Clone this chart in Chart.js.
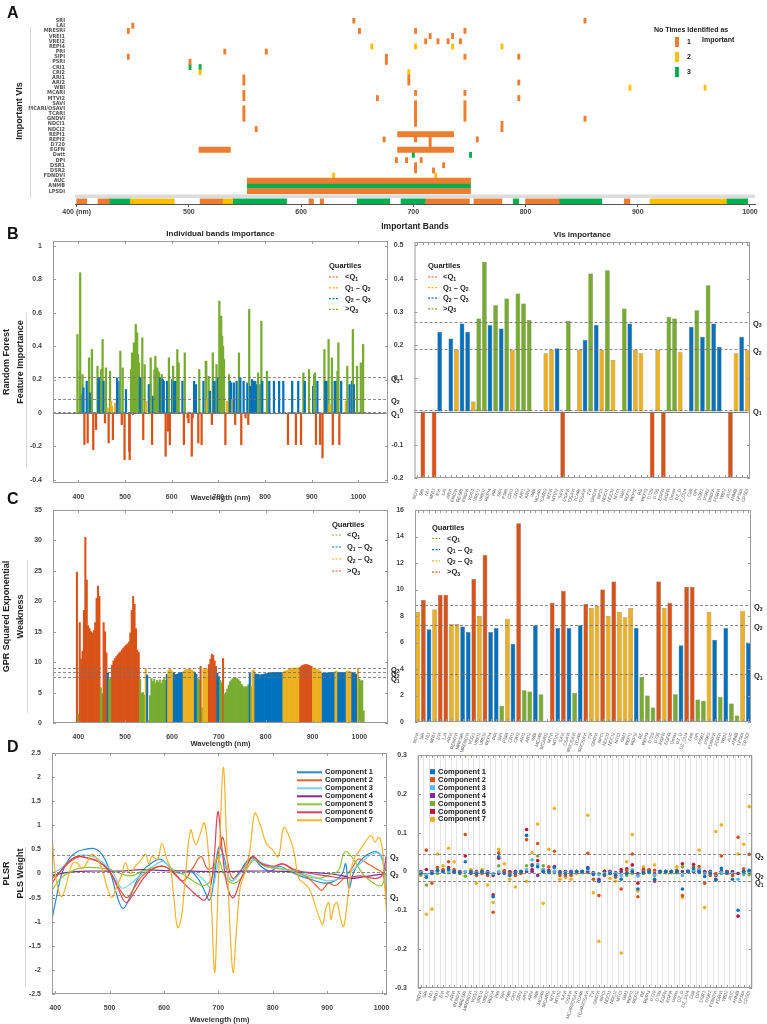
<!DOCTYPE html>
<html>
<head>
<meta charset="utf-8">
<title>Important bands and VIs</title>
<script src="https://cdn.jsdelivr.net/npm/chart.js@4.4.1/dist/chart.umd.min.js"></script>
<style>
  html, body { margin: 0; background: #fff; }
  #page { position: relative; width: 767px; height: 1024px; overflow: hidden; }
  #page canvas { position: absolute; }
  .tag { position: absolute; font: bold 16px 'Liberation Sans', Arial, sans-serif; color: #111; line-height: 16px; }
</style>
</head>
<body>
<div id="page">
  <canvas id="chartA" width="767" height="232" style="left:0;top:0"></canvas>
  <canvas id="chartBL" width="400" height="280" style="left:0;top:222px"></canvas>
  <canvas id="chartBR" width="377" height="280" style="left:390px;top:222px"></canvas>
  <canvas id="chartCL" width="400" height="248" style="left:0;top:500px"></canvas>
  <canvas id="chartCR" width="377" height="252" style="left:390px;top:500px"></canvas>
  <canvas id="chartDL" width="400" height="279" style="left:0;top:745px"></canvas>
  <canvas id="chartDR" width="377" height="279" style="left:390px;top:745px"></canvas>
  <div class="tag" style="left:7px;top:5px">A</div>
  <div class="tag" style="left:7px;top:226px">B</div>
  <div class="tag" style="left:7px;top:491px">C</div>
  <div class="tag" style="left:7px;top:739px">D</div>
</div>
<script>
// ===== 颜色 / 字体 =====
const FONT = "'Liberation Sans', Arial, sans-serif";
const RED = '#D95319', YEL = '#EDB120', BLU = '#0072BD', GRN = '#77AC30';
const XL_ORANGE = '#ED7D31', XL_YELLOW = '#FFC000', XL_GREEN = '#00B050';
const TICK_FONT = { size: 7, weight: 'bold' };

// ===== A: important VIs vs bands =====
const viRows = ['SRI', 'LAI', 'MRESRI', 'VREI1', 'VREI2', 'REPI4', 'PRI', 'SIPI', 'PSRI', 'CRI1', 'CRI2',
  'ARI1', 'ARI2', 'WBI', 'MCARI', 'MTVI2', 'SAVI', 'MCARI/OSAVI', 'TCARI', 'GNDVI', 'NDCI1', 'NDCI2',
  'REPI1', 'REPI2', 'D720', 'EGFN', 'Datt', 'DPI', 'DSR1', 'DSR2', 'FDNDVI', 'AUC', 'ANMB', 'LPSDI'];
// [row, wavelengths (nm)...]
const pickedOnce = [
  ['SRI', 647, 853], ['LAI', 450], ['MRESRI', 446, 652, 702, 746], ['VREI1', 715, 735],
  ['VREI2', 711, 722, 731, 742], ['PRI', 532, 569], ['SIPI', 446, 676, 746, 794], ['PSRI', 501, 676],
  ['ARI1', 549, 696], ['ARI2', 549, 696, 794], ['MCARI', 549, 702, 746], ['MTVI2', 549, 668, 794],
  ['SAVI', 702, 746], ['MCARI/OSAVI', 549, 702, 746], ['TCARI', 549, 702, 746], ['GNDVI', 549, 702, 746, 853],
  ['NDCI1', 702, 779], ['NDCI2', 560, 779], ['REPI2', 674, 702, 715, 757], ['D720', 715],
  ['DPI', 685, 694, 707], ['DSR1', 702, 727], ['DSR2', 702, 718]
];
const pickedTwice = [['REPI4', 663, 702, 735, 779], ['CRI2', 510, 696], ['WBI', 893, 960], ['FDNDVI', 629, 720]];
const pickedThrice = [['CRI1', 501, 510], ['Datt', 700, 751]];
// [row, from, to]
const rangesOnce = [['REPI1', 686, 736], ['EGFN', 509, 537], ['EGFN', 686, 736], ['AUC', 552, 751], ['LPSDI', 552, 751]];
const rangesThrice = [['ANMB', 552, 751]];
// important bands strip [from, to]
const bandsOnce = [[400, 409], [419, 429], [510, 530], [607, 611], [617, 620], [711, 750], [754, 779], [800, 830], [888, 893]];
const bandsTwice = [[448, 487], [530, 539], [911, 979]];
const bandsThrice = [[429, 448], [539, 587], [650, 679], [689, 711], [789, 794], [830, 868], [979, 998]];
const waveTicks = [400, 500, 600, 700, 800, 900, 1000];

// ===== B/C/D right: VI names =====
const viNames = ['NDVI', 'SRI', 'NLI', 'MNLI', 'EVI', 'LAI', 'ARVI', 'RENDVI', 'MRESRI', 'MRENDVI', 'VOG1',
  'VREI1', 'VREI2', 'REPI4', 'PRI', 'SIPI', 'PSRI', 'CRI1', 'CRI2', 'ARI1', 'ARI2', 'WBI', 'MCARI', 'MCARI2',
  'MTVI', 'MTVI2', 'SAVI', 'OSAVI', 'MCARI/OSAVI', 'TCARI', 'TCARI/OSAVI', 'TVI', 'GNDVI', 'NPCI', 'NDCI1',
  'NDCI2', 'MTCI', 'GM1', 'REPI1', 'REPI2', 'RE', 'REPI3', 'D720', 'D705', 'EGFN', 'EGFR', 'Dmax', 'DZ_D',
  'DZ_DU4', 'Datt', 'DPI', 'DSR1', 'DSR2', 'FDNDVI', 'FDRVI', 'WBI2', 'AUC', 'ANMB', 'LPSDI', 'CPSDI'];

// ===== B: random forest importance =====
const rfQ = [0.005, 0.085, 0.215];
const rfBands = [
  [398, 0.47], [403, 0.25], [404, 0.84], [408, 0.11], [409, 0.23], [411, 0.15], [413, -0.19], [418, 0.19],
  [420, -0.18], [423, 0.33], [425, 0.12], [427, 0.10], [429, 0.38], [432, -0.22], [438, -0.10], [441, 0.28],
  [443, 0.21], [445, 0.19], [447, 0.21], [449, 0.26], [452, 0.44], [454, 0.19], [457, -0.06], [459, 0.27],
  [463, 0.03], [465, -0.18], [468, 0.25], [470, 0.07], [472, 0.04], [474, -0.16], [479, 0.06], [483, 0.21],
  [488, 0.19], [490, 0.37], [493, -0.07], [495, 0.27], [499, -0.28], [502, 0.14], [509, -0.23], [510, -0.28],
  [513, 0.26], [515, 0.36], [517, -0.01], [519, 0.42], [521, 0.32], [523, 0.53], [525, 0.33], [526, 0.48],
  [528, 0.35], [530, 0.30], [532, 0.21], [535, 0.21], [537, 0.45], [539, -0.16], [542, 0.29], [545, 0.07],
  [551, 0.17], [554, 0.17], [555, 0.33], [558, -0.19], [560, 0.10], [563, 0.26], [565, 0.34], [567, 0.26],
  [569, 0.27], [571, 0.25], [573, 0.24], [575, 0.21], [577, 0.20], [579, 0.23], [581, 0.20], [583, 0.19],
  [587, -0.26], [590, 0.19], [592, -0.11], [594, 0.33], [596, -0.19], [601, 0.20], [603, 0.28], [605, 0.19],
  [609, 0.19], [612, 0.38], [615, 0.30], [623, 0.19], [626, -0.19], [628, 0.36], [634, -0.03], [636, -0.06],
  [643, -0.26], [645, -0.03], [648, 0.19], [652, 0.17], [657, -0.18], [659, 0.26], [664, -0.19], [668, 0.19],
  [673, 0.31], [674, 0.31], [676, 0.08], [679, 0.22], [682, 0.13], [686, -0.07], [688, 0.36], [690, 0.19],
  [694, 0.19], [696, 0.29], [699, 0.21], [701, 0.21], [702, 0.67], [704, 0.23], [706, 0.58], [708, 0.46],
  [710, 0.40], [712, 0.32], [715, -0.19], [718, 0.07], [723, 0.23], [725, 0.19], [727, 0.18], [730, 0.08],
  [733, 0.18], [736, -0.07], [739, 0.19], [744, 0.36], [747, 0.21], [749, -0.19], [754, 0.19], [758, -0.03],
  [762, 0.18], [764, -0.07], [766, 0.62], [768, 0.16], [772, 0.20], [776, 0.19], [779, 0.19], [781, 0.17],
  [785, 0.24], [790, 0.17], [792, 0.55], [794, 0.19], [804, 0.25], [809, 0.19], [819, 0.19], [830, 0.19],
  [839, 0.19], [849, -0.19], [858, 0.19], [866, -0.19], [871, 0.19], [877, -0.19], [882, 0.24], [885, 0.19],
  [894, 0.26], [903, 0.16], [905, 0.23], [907, 0.24], [909, -0.19], [912, 0.19], [918, -0.19], [923, -0.27],
  [927, 0.38], [929, 0.19], [932, 0.19], [936, 0.44], [938, 0.05], [943, 0.33], [945, -0.19], [949, 0.19],
  [952, 0.19], [955, 0.25], [957, 0.42], [959, -0.19], [963, 0.19], [973, 0.07], [976, 0.28], [981, 0.17],
  [986, 0.19], [988, 0.50], [990, 0.17], [997, 0.28], [1005, 0.30], [1010, 0.41]
];
const rfViQ = [0.006, 0.187, 0.27];
const rfVi = [0, -0.2, 0, -0.2, 0.24, 0, 0.22, 0.185, 0.265, 0.24,
  0.03, 0.28, 0.45, 0.26, 0.32, 0.25, 0.34, 0.185, 0.355, 0.325,
  0.275, 0, 0, 0.175, 0.185, 0.19, -0.2, 0.272, 0, 0.185,
  0.215, 0.415, 0.26, 0.185, 0.425, 0.155, 0, 0.31, 0.265, 0.185,
  0.175, 0, -0.2, 0.185, -0.2, 0.285, 0.28, 0.18, 0, 0.255,
  0.305, 0.225, 0.38, 0.265, 0.195, 0, -0.2, 0.175, 0.225, 0.185];

// ===== C: GPR squared exponential weakness =====
const gprQ = [7.5, 8.35, 9.1];
const gprStart = 397, gprStep = 3; // band sampling (nm)
const gprWeak = [
  24.8, 1.5, 16.5, 10.5, 11.8, 18.5, 30.5, 23.5, 16.0, 15.5,
  15.0, 14.8, 15.2, 16.5, 20.5, 22.5, 20.8, 5.8, 4.8, 16.5,
  15.0, 11.5, 8.2, 7.2, 7.4, 9.5, 10.2, 10.6, 10.9, 11.2,
  11.5, 11.7, 12.0, 12.3, 12.6, 12.8, 13.0, 13.3, 14.8, 18.5,
  20.8, 19.5, 15.5, 12.0, 11.6, 7.2, 4.9, 5.0, 4.6, 8.9,
  7.9, 0.4, 4.5, 7.3, 6.8, 7.2, 6.6, 7.0, 6.7, 7.1,
  6.5, 7.0, 7.3, 7.0, 8.0, 8.6, 8.8, 8.7, 8.4, 8.3,
  7.9, 8.0, 8.1, 8.3, 8.3, 8.3, 8.5, 8.7, 8.8, 8.8,
  8.9, 8.8, 8.7, 8.5, 8.3, 8.0, 7.3, 7.1, 9.3, 2.5,
  8.8, 8.9, 9.0, 8.9, 9.6, 10.5, 11.3, 11.1, 10.2, 9.3,
  8.2, 7.6, 7.0, 6.6, 10.6, 4.8, 5.0, 5.6, 6.2, 6.8,
  7.1, 7.3, 7.4, 7.4, 7.3, 7.1, 6.8, 6.4, 6.1, 5.8,
  6.0, 5.9, 6.3, 8.2, 6.0, 8.6, 8.7, 8.1, 8.0, 8.0,
  7.9, 7.9, 8.0, 8.0, 8.1, 8.1, 8.2, 8.2, 8.2, 8.3,
  8.3, 8.3, 8.3, 8.3, 8.3, 8.3, 8.3, 8.4, 8.5, 8.6,
  8.7, 8.8, 8.9, 9.0, 9.0, 9.05, 9.0, 9.05, 9.05, 9.2,
  9.4, 9.5, 9.6, 9.6, 9.6, 9.5, 9.4, 9.3, 9.05, 9.0,
  8.9, 8.8, 8.7, 8.6, 8.4, 8.2, 8.2, 8.2, 8.2, 8.3,
  8.3, 8.3, 8.3, 8.3, 8.5, 8.5, 8.3, 8.3, 8.3, 8.3,
  8.3, 8.3, 8.5, 8.5, 8.5, 8.4, 8.3, 8.2, 8.1, 8.0,
  9.0, 7.2, 6.9, 7.0, 2.0];
const gprViQ = [3.6, 7.35, 8.8];
const gprVi = [8.3, 9.2, 7.0, 8.5, 9.6, 9.6, 7.4, 7.4, 7.2, 6.8,
  10.8, 8.0, 12.6, 6.8, 7.1, 1.2, 7.8, 5.9, 15.0, 2.4,
  2.3, 7.3, 2.1, 0.1, 9.0, 7.1, 9.9, 7.1, 2.2, 7.3,
  8.9, 8.6, 8.75, 10.0, 8.0, 10.6, 8.3, 7.9, 8.6, 7.1,
  3.4, 2.0, 1.1, 10.6, 8.6, 9.0, 2.1, 5.8, 10.2, 10.2,
  1.7, 1.6, 8.3, 6.2, 1.9, 7.1, 1.4, 0.5, 8.4, 6.0];

// ===== D: PLSR weights (left: [nm, weight]) =====
const plsQ = [-0.45, 0.03, 0.38];
const pls1 = [[394, -0.95], [402, -0.5], [412, 0.0], [425, 0.3], [440, 0.45], [455, 0.5], [470, 0.52], [482, 0.45],
  [492, 0.28], [502, 0.0], [512, -0.4], [524, -0.72], [535, -0.55], [548, -0.2], [560, 0.05], [575, 0.2], [592, 0.3],
  [605, 0.2], [618, 0.05], [632, 0.0], [648, 0.05], [662, -0.1], [672, -0.3], [684, -0.55], [692, -0.1], [701, 0.55],
  [710, 0.35], [718, -0.05], [726, -0.15], [738, 0.0], [752, 0.25], [764, 0.32], [778, 0.15], [795, 0.05], [812, 0.15],
  [830, 0.05], [850, -0.05], [870, -0.12], [895, -0.2], [915, -0.15], [928, 0.0], [934, 0.2], [940, -0.3], [948, 0.0],
  [960, 0.25], [975, 0.4], [990, 0.45], [1000, 0.35], [1008, 0.05]];
const pls2 = [[394, -0.1], [410, 0.05], [428, 0.25], [445, 0.35], [465, 0.3], [485, 0.2], [505, -0.05], [520, -0.35],
  [532, -0.5], [545, -0.3], [560, -0.05], [580, 0.1], [600, 0.15], [618, 0.0], [635, -0.15], [652, 0.1], [668, 0.35],
  [680, 0.1], [692, 0.15], [702, 0.5], [708, 0.75], [716, 0.3], [726, -0.1], [740, 0.05], [752, 0.2], [763, 0.35],
  [780, 0.2], [800, 0.12], [818, 0.2], [840, 0.05], [860, -0.05], [880, -0.25], [890, -0.35], [902, -0.2], [915, -0.25],
  [930, -0.1], [945, 0.1], [958, 0.3], [975, 0.2], [990, 0.1], [1002, 0.0], [1008, -0.4]];
const pls3 = [[394, 0.0], [410, 0.1], [430, 0.3], [450, 0.38], [470, 0.35], [490, 0.2], [505, 0.05], [522, -0.3],
  [540, -0.2], [560, 0.0], [580, 0.15], [598, 0.25], [615, 0.1], [632, 0.0], [650, 0.05], [670, -0.1], [688, -0.3],
  [698, 0.15], [706, 0.4], [714, 0.1], [724, -0.15], [740, 0.0], [754, 0.2], [765, 0.3], [785, 0.2], [810, 0.12],
  [840, 0.05], [870, -0.05], [900, -0.15], [925, -0.1], [945, 0.05], [965, 0.25], [985, 0.42], [998, 0.38], [1008, -0.2]];
const pls4 = [[394, -0.05], [420, 0.02], [460, 0.05], [520, 0.05], [560, 0.08], [600, 0.06], [650, 0.05], [700, 0.04],
  [750, 0.05], [800, 0.05], [850, 0.03], [900, 0.0], [930, -0.05], [945, -0.1], [960, -0.08], [980, -0.05], [1008, 0.0]];
const pls5 = [[394, -0.35], [410, -0.1], [430, 0.05], [450, 0.12], [475, 0.12], [500, 0.08], [520, 0.0], [540, -0.05],
  [560, 0.05], [580, 0.12], [600, 0.15], [620, 0.05], [640, -0.05], [660, -0.2], [675, -0.25], [688, -0.1], [698, 0.35],
  [708, 0.05], [718, -0.15], [730, -0.2], [745, -0.05], [758, 0.2], [766, 0.28], [785, 0.15], [810, 0.1], [835, 0.05],
  [860, -0.05], [885, -0.1], [905, -0.02], [920, 0.05], [933, 0.45], [948, 0.3], [965, 0.0], [985, -0.2], [1000, -0.25], [1008, 0.0]];
const pls6 = [[394, -0.2], [410, 0.05], [425, 0.25], [440, 0.35], [460, 0.32], [480, 0.25], [500, 0.05], [515, -0.3],
  [530, -0.6], [545, -0.4], [562, -0.1], [580, 0.1], [598, 0.15], [615, 0.05], [632, -0.15], [650, -0.35], [665, -0.5],
  [675, -0.55], [685, -0.3], [692, 0.3], [699, 1.28], [705, 0.7], [712, 0.0], [720, -0.4], [728, -0.5], [740, -0.15],
  [752, 0.15], [763, 0.35], [780, 0.2], [800, 0.15], [818, 0.2], [840, 0.08], [870, 0.0], [900, -0.05], [930, -0.1],
  [960, -0.05], [990, -0.1], [1003, 0.0], [1008, 0.35]];
const pls7 = [[394, 0.8], [400, 0.0], [406, -0.35], [412, -0.48], [421, -0.2], [431, 0.2], [440, 0.22], [449, 0.1],
  [458, 0.22], [467, 0.4], [477, 0.3], [486, 0.1], [495, -0.27], [504, -0.5], [513, -0.27], [523, 0.0], [529, 0.22],
  [538, 0.0], [547, 0.15], [556, 0.25], [566, 0.4], [572, 0.2], [578, 0.35], [588, 0.3], [596, 0.62], [605, 0.3],
  [612, 0.1], [618, -0.5], [625, -1.12], [632, -0.9], [639, -0.1], [649, 0.9], [658, 0.6], [666, 0.8], [674, 1.05],
  [681, 0.5], [687, -0.6], [693, -2.05], [698, -0.8], [703, 0.8], [709, 2.2], [714, 1.0], [720, -0.8], [727, -2.05],
  [733, -1.2], [740, -0.3], [748, 0.0], [758, 0.5], [767, 1.25], [777, 1.0], [789, 0.6], [799, 0.5], [810, 0.35],
  [820, 0.95], [829, 0.8], [838, 0.5], [848, -0.1], [857, -0.2], [866, -0.3], [875, -0.55], [885, -0.9], [892, -1.05],
  [897, -0.75], [903, -0.6], [907, -0.95], [912, -0.7], [918, -0.6], [924, -0.9], [930, -1.1], [937, -0.6], [943, 0.0],
  [949, 0.3], [958, 0.45], [967, 0.6], [976, 0.75], [982, 0.78], [988, 0.65], [995, 0.75], [1001, 0.55], [1004, 0.1], [1009, -0.8]];

// D right: weight per VI for each component
const plsViQ = [-0.025, -0.005, 0.045];
const viComp1 = [-0.005, -0.015, -0.005, 0.003, 0, 0.005, 0, -0.003, 0.025, -0.003,
  -0.005, 0, -0.005, -0.065, 0.038, -0.005, -0.01, -0.003, 0, 0.093,
  0.015, 0.012, 0, 0, 0.01, -0.003, -0.005, -0.003, 0, 0,
  0.008, -0.008, -0.025, -0.008, -0.005, -0.01, -0.02, -0.005, 0, -0.045,
  -0.003, 0, -0.02, 0, 0, 0, 0, -0.045, 0, 0.008,
  0, -0.013, -0.005, -0.022, 0.008, -0.003, -0.02, -0.1, 0, 0.003];
const viComp2 = [-0.005, 0.055, -0.03, 0.01, 0.005, 0.025, 0.005, -0.002, 0.095, -0.005,
  -0.01, -0.005, -0.01, -0.105, 0.048, 0, -0.005, -0.01, -0.005, 0.082,
  0.018, 0.072, 0, 0.012, 0.052, -0.01, -0.01, -0.01, 0, 0,
  0.047, -0.02, -0.062, -0.01, -0.005, -0.015, -0.045, 0.003, 0.045, -0.065,
  0.003, 0.005, 0.003, 0, 0, 0, 0.003, -0.062, 0, 0.012,
  0.013, -0.03, -0.01, -0.005, 0.04, -0.005, -0.01, 0.088, 0.007, 0.044];
const viComp3 = [-0.002, -0.008, -0.003, 0, 0.002, 0, 0, -0.002, 0, -0.002,
  -0.003, 0, -0.003, -0.005, 0, -0.002, -0.005, -0.003, 0, 0.005,
  0.03, 0.018, 0.005, 0, 0, -0.003, -0.003, -0.003, 0, 0,
  0.005, -0.005, -0.008, -0.005, -0.003, -0.005, -0.01, -0.002, 0.005, -0.012,
  -0.002, 0, -0.008, 0, 0, 0, 0.002, -0.01, 0.002, 0.003,
  0.005, -0.005, -0.003, -0.008, -0.003, -0.003, -0.005, -0.02, -0.005, 0];
const viComp4 = [-0.003, -0.01, 0, 0, 0, 0.002, -0.002, -0.003, 0, 0,
  -0.002, 0, -0.002, -0.01, -0.005, 0, -0.002, 0, 0, 0,
  0, -0.01, 0, 0, 0, -0.002, 0, 0, 0, 0,
  0, -0.003, -0.02, 0, 0, -0.003, 0, -0.002, 0, -0.005,
  0, 0, -0.005, 0, 0, 0, 0, 0, 0, 0,
  0, -0.003, 0, -0.01, 0, 0, -0.003, -0.005, 0, 0];
const viComp5 = [-0.008, -0.035, -0.005, -0.005, 0, -0.003, -0.003, -0.005, -0.012, -0.003,
  -0.005, -0.003, -0.003, -0.005, 0.015, -0.003, -0.003, -0.005, -0.003, 0.015,
  0, 0.04, 0.015, -0.003, -0.003, -0.005, -0.005, -0.005, -0.003, -0.003,
  -0.003, -0.005, -0.005, -0.005, -0.005, -0.005, 0, -0.01, -0.005, -0.01,
  -0.005, -0.003, -0.01, -0.003, -0.003, -0.003, -0.003, 0.012, 0, 0,
  -0.003, -0.005, -0.003, -0.01, -0.005, -0.005, -0.005, -0.005, -0.008, -0.008];
const viComp6 = [0, 0.005, 0, 0.002, 0.002, 0.01, 0.002, 0, 0.04, 0,
  0, 0, 0, -0.06, 0.034, 0.002, 0, 0, 0, 0.108,
  0.005, 0.028, 0.005, 0.003, 0.013, 0, 0, 0, 0, 0,
  0.01, -0.005, -0.025, 0, 0, -0.01, 0.005, 0.007, 0.017, -0.03,
  0.005, 0.003, -0.025, 0, 0, 0, 0, 0.02, 0, 0.018,
  0.005, 0, 0, -0.02, 0, 0, 0, -0.115, 0, 0];
const viComp7 = [-0.01, -0.11, -0.097, 0.045, 0.015, 0.06, 0.025, -0.005, 0.3, 0.005,
  -0.03, 0.005, -0.035, -0.08, 0.057, 0.02, -0.02, -0.04, 0, -0.025,
  0.048, 0.122, -0.082, 0.057, 0.162, -0.02, -0.015, -0.02, -0.005, 0,
  0.145, -0.055, -0.18, 0.002, -0.018, -0.025, -0.21, 0.025, 0.095, -0.05,
  0.012, 0, 0.017, 0, 0, 0, 0.012, -0.067, 0.002, 0.005,
  0.055, -0.093, -0.005, 0.103, 0.12, -0.003, -0.01, 0.045, 0.07, 0.167];

const compNames = ['Component 1', 'Component 2', 'Component 3', 'Component 4', 'Component 5', 'Component 6', 'Component 7'];
const lineColors = ['#2A86D6', '#E8622C', '#74CFF5', '#7E2F8E', '#8FC640', '#E0405E', '#F3B52C'];
const dotColors = ['#0072BD', '#D95319', '#4DBEEE', '#7E2F8E', '#77AC30', '#B5173A', '#EDB120'];

// ===== 工具 =====
const quartB = (q) => (v) => (v < q[0] ? RED : v < q[1] ? YEL : v < q[2] ? BLU : GRN);
const quartC = (q) => (v) => (v < q[0] ? GRN : v < q[1] ? BLU : v < q[2] ? YEL : RED);
// "_n" marks a subscript digit
const Q_LABELS = ['Q_1', 'Q_2', 'Q_3'];
const B_ITEMS = [['<Q_1', RED], ['Q_1 \u2013 Q_2', YEL], ['Q_2 \u2013 Q_3', BLU], ['>Q_3', GRN]];
const C_ITEMS = [['<Q_1', GRN], ['Q_1 \u2013 Q_2', BLU], ['Q_2 \u2013 Q_3', YEL], ['>Q_3', RED]];

function drawSub(ctx, text, x, y, size) {
  let cx = x;
  text.split(/(_\d)/).forEach((p) => {
    if (!p) return;
    if (p[0] === '_') {
      ctx.font = `bold ${(size * 0.68).toFixed(1)}px ${FONT}`;
      ctx.fillText(p[1], cx, y + size * 0.28);
      cx += ctx.measureText(p[1]).width;
    } else {
      ctx.font = `bold ${size}px ${FONT}`;
      ctx.fillText(p, cx, y);
      cx += ctx.measureText(p).width;
    }
  });
}

function baseOptions(padding) {
  return {
    responsive: false,
    animation: false,
    devicePixelRatio: 1,
    layout: { padding },
    plugins: { legend: { display: false }, tooltip: { enabled: false } },
  };
}

function valueAxis(min, max, step, width, title) {
  return {
    type: 'linear', min, max,
    ticks: { stepSize: step, includeBounds: false, padding: 3, color: '#444', font: TICK_FONT, callback: (v) => +v.toFixed(2) },
    grid: { display: false },
    border: { display: false },
    title: title
      ? { display: true, text: title, color: '#222', padding: { top: 0, bottom: 2 }, font: { size: 9, weight: 'bold', lineHeight: 1.5 } }
      : { display: false },
    afterFit: (s) => { s.width = width; },
  };
}

function waveAxis(min, max, height) {
  return {
    type: 'linear', min, max,
    afterBuildTicks: (s) => { s.ticks = waveTicks.map((value) => ({ value })); },
    ticks: { padding: 2, maxRotation: 0, color: '#444', font: TICK_FONT, callback: (v) => String(v) },
    grid: { display: false },
    border: { display: false },
    title: { display: true, text: 'Wavelength (nm)', color: '#333', padding: 0, font: { size: 7.5, weight: 'bold' } },
    afterFit: (s) => { s.height = height; },
  };
}

function viAxis(height, gridOn) {
  return {
    type: 'category', offset: true,
    ticks: { autoSkip: false, minRotation: 72, maxRotation: 72, padding: 2, color: '#555', font: { size: 4.5 } },
    grid: gridOn ? { display: true, offset: true, drawTicks: false, color: '#e3e3e3' } : { display: false },
    border: { display: false },
    afterFit: (s) => { s.height = height; },
  };
}

// frame, quartile lines, Q labels, legend and title for one chart
function decor(cfg) {
  const ox = cfg.ox || 0, oy = cfg.oy || 0;
  return {
    id: 'decor',
    afterDatasetsDraw(chart) {
      const { ctx, chartArea: a } = chart;
      const { x, y } = chart.scales;
      ctx.save();
      if (cfg.zero) {
        const py = Math.round(y.getPixelForValue(0)) + 0.5;
        ctx.strokeStyle = '#7a7a7a';
        ctx.lineWidth = 1;
        ctx.beginPath(); ctx.moveTo(a.left, py); ctx.lineTo(a.right, py); ctx.stroke();
      }
      if (cfg.q) {
        ctx.strokeStyle = '#6e6e6e';
        ctx.lineWidth = 0.8;
        ctx.setLineDash([3, 2]);
        cfg.q.forEach((v) => {
          const py = Math.round(y.getPixelForValue(v)) + 0.5;
          ctx.beginPath(); ctx.moveTo(a.left, py); ctx.lineTo(a.right, py); ctx.stroke();
        });
        ctx.setLineDash([]);
      }
      if (cfg.frame) {
        ctx.strokeStyle = '#9a9a9a';
        ctx.lineWidth = 1;
        ctx.strokeRect(a.left + 0.5, a.top + 0.5, a.width - 1, a.height - 1);
        ctx.beginPath();
        y.ticks.forEach((t) => {
          const py = Math.round(y.getPixelForValue(t.value)) + 0.5;
          ctx.moveTo(a.left, py); ctx.lineTo(a.left + 3, py);
          ctx.moveTo(a.right, py); ctx.lineTo(a.right - 3, py);
        });
        x.ticks.forEach((t, i) => {
          const px = Math.round(x.getPixelForTick(i)) + 0.5;
          ctx.moveTo(px, a.top); ctx.lineTo(px, a.top + 3);
          ctx.moveTo(px, a.bottom); ctx.lineTo(px, a.bottom - 3);
        });
        ctx.stroke();
      }
      ctx.restore();
    },
    afterDraw(chart) {
      const { ctx, chartArea: a } = chart;
      const y = chart.scales.y;
      ctx.save();
      ctx.textBaseline = 'middle';
      ctx.textAlign = 'left';
      if (cfg.side) {
        ctx.strokeStyle = '#d6d6d6';
        ctx.lineWidth = 1;
        ctx.beginPath();
        ctx.moveTo(cfg.side[0] - ox + 0.5, cfg.side[1] - oy);
        ctx.lineTo(cfg.side[0] - ox + 0.5, cfg.side[2] - oy);
        ctx.stroke();
      }
      if (cfg.q) {
        ctx.fillStyle = '#222';
        cfg.q.forEach((v, i) => drawSub(ctx, Q_LABELS[i], a.right + 3, y.getPixelForValue(v) + 2, 7.5));
      }
      if (cfg.title) {
        ctx.fillStyle = '#222';
        ctx.font = `bold 8px ${FONT}`;
        ctx.textAlign = 'center';
        ctx.fillText(cfg.title[0], (a.left + a.right) / 2, cfg.title[1] - oy);
        ctx.textAlign = 'left';
      }
      const L = cfg.legend;
      if (L) {
        const size = L.size || 7.5;
        ctx.font = `bold ${size}px ${FONT}`;
        ctx.fillStyle = '#1a1a1a';
        (L.head || []).forEach(([t, tx, ty]) => ctx.fillText(t, tx - ox, ty - oy));
        L.items.forEach(([label, color], i) => {
          const xx = L.x - ox, yy = L.y + i * L.dy - oy;
          ctx.fillStyle = color;
          ctx.strokeStyle = color;
          if (L.kind === 'dash') {
            ctx.lineWidth = 1.2;
            ctx.setLineDash([2, 1.5]);
            ctx.beginPath(); ctx.moveTo(xx, yy); ctx.lineTo(xx + L.sw, yy); ctx.stroke();
            ctx.setLineDash([]);
          } else if (L.kind === 'line') {
            ctx.lineWidth = 2;
            ctx.beginPath(); ctx.moveTo(xx, yy); ctx.lineTo(xx + L.sw, yy); ctx.stroke();
          } else if (L.kind === 'square') {
            ctx.fillRect(xx, yy - 2.5, 5, 5);
          } else {
            ctx.fillRect(xx, yy - 5, 4, 10);
          }
          ctx.fillStyle = '#1a1a1a';
          drawSub(ctx, label, xx + L.tx, yy, size);
        });
      }
      ctx.restore();
    },
  };
}

// ===== A =====
const MARK = 1.0; // half width of a single-band tick (nm)
const marks = (list) => list.flatMap(([row, ...ws]) => ws.map((w) => ({ y: row, x: [w - MARK, w + MARK] })));
const spans = (list) => list.map(([row, a, b]) => ({ y: row, x: [a, b] }));
const strip = (list) => list.map(([a, b]) => ({ y: 'bands', x: [a, b] }));
const aRows = [...viRows, 'gap', 'bands'];
const aBar = { categoryPercentage: 1, barPercentage: 1, grouped: false };

new Chart(document.getElementById('chartA'), {
  type: 'bar',
  data: {
    labels: aRows,
    datasets: [
      { ...aBar, data: [{ y: 'gap', x: [398.5, 1004.5] }], backgroundColor: '#dcdcdc', barPercentage: 0.7 },
      { ...aBar, data: [...marks(pickedOnce), ...spans(rangesOnce), ...strip(bandsOnce)], backgroundColor: XL_ORANGE },
      { ...aBar, data: [...marks(pickedTwice), ...strip(bandsTwice)], backgroundColor: XL_YELLOW },
      { ...aBar, data: [...marks(pickedThrice), ...spans(rangesThrice), ...strip(bandsThrice)], backgroundColor: XL_GREEN },
    ],
  },
  options: {
    ...baseOptions({ left: 14, top: 18, right: 12, bottom: 0 }),
    indexAxis: 'y',
    scales: {
      x: {
        type: 'linear', min: 398.5, max: 1004.5,
        afterBuildTicks: (s) => { s.ticks = waveTicks.map((value) => ({ value })); },
        ticks: { padding: 1, maxRotation: 0, color: '#444', font: TICK_FONT,
          callback: (v) => (v === 400 ? '400 (nm)' : String(v)) },
        grid: { display: true, drawOnChartArea: false, drawTicks: true, tickLength: 3, color: '#555' },
        border: { display: true, color: '#555' },
        title: { display: true, text: 'Important Bands', color: '#222', padding: 0, font: { size: 8.5, weight: 'bold' } },
        afterFit: (s) => { s.height = 28; },
      },
      y: {
        type: 'category',
        ticks: {
          autoSkip: false, padding: 2, color: '#555',
          font: { family: "'DejaVu Sans Condensed', 'DejaVu Sans', sans-serif", size: 5.5, weight: 'bold' },
          callback(v) { const s = this.getLabelForValue(v); return s === 'gap' || s === 'bands' ? '' : s; },
        },
        grid: { display: false },
        border: { display: false },
        title: { display: true, text: 'Important VIs', color: '#222', padding: 0, font: { size: 9, weight: 'bold' } },
        afterFit: (s) => { s.width = 61; },
      },
    },
  },
  plugins: [decor({
    side: [30, 27, 198],
    legend: {
      kind: 'bar', x: 675, y: 42, dy: 15, tx: 12, size: 7,
      head: [['No Times Identified as', 654, 30], ['Important', 702, 40]],
      items: [['1', XL_ORANGE], ['2', XL_YELLOW], ['3', XL_GREEN]],
    },
  })],
});

// ===== B left =====
const rfColor = quartB(rfQ);
new Chart(document.getElementById('chartBL'), {
  type: 'bar',
  data: {
    datasets: [{
      data: rfBands.map(([w, v]) => ({ x: w, y: v })),
      backgroundColor: (c) => rfColor(c.raw.y),
      barThickness: 1.6,
      grouped: false,
    }],
  },
  options: {
    ...baseOptions({ left: 0, top: 19, right: 12, bottom: 0 }),
    scales: {
      x: waveAxis(397, 1012, 19),
      y: valueAxis(-0.42, 1.03, 0.2, 53, ['Random Forest', 'Feature Importance']),
    },
  },
  plugins: [decor({
    oy: 222, frame: true, zero: true, q: rfQ, side: [26, 313, 467],
    title: ['Individual bands importance', 234],
    legend: { kind: 'dash', x: 329, y: 277, dy: 10.8, sw: 9, tx: 16, head: [['Quartiles', 329, 266]], items: B_ITEMS },
  })],
});

// ===== B right =====
const rfViColor = quartB(rfViQ);
new Chart(document.getElementById('chartBR'), {
  type: 'bar',
  data: {
    labels: viNames,
    datasets: [{
      data: rfVi,
      backgroundColor: (c) => rfViColor(c.raw),
      borderColor: '#6a6a6a', borderWidth: 0.5,
      barPercentage: 0.85, categoryPercentage: 1,
    }],
  },
  options: {
    ...baseOptions({ left: 0, top: 20, right: 17, bottom: 0 }),
    scales: { x: viAxis(24, false), y: valueAxis(-0.2, 0.51, 0.1, 24.5) },
  },
  plugins: [decor({
    ox: 390, oy: 222, frame: true, zero: true, q: rfViQ,
    title: ['VIs importance', 235],
    legend: { kind: 'dash', x: 428, y: 277, dy: 10.6, sw: 9, tx: 15, head: [['Quartiles', 428, 266]], items: B_ITEMS },
  })],
});

// ===== C left =====
const gprColor = quartC(gprQ);
new Chart(document.getElementById('chartCL'), {
  type: 'bar',
  data: {
    datasets: [{
      data: gprWeak.map((v, i) => ({ x: gprStart + gprStep * i, y: v })),
      backgroundColor: (c) => gprColor(c.raw.y),
      barPercentage: 1, categoryPercentage: 1, grouped: false,
    }],
  },
  options: {
    ...baseOptions({ left: 0, top: 10, right: 12, bottom: 0 }),
    scales: {
      x: waveAxis(397, 1010, 25),
      y: valueAxis(0, 35, 5, 53, ['GPR Squared Exponential', 'Weakness']),
    },
  },
  plugins: [decor({
    oy: 500, frame: true, q: gprQ, side: [27, 560, 713],
    legend: { kind: 'dash', x: 332, y: 535, dy: 12, sw: 9, tx: 15, head: [['Quartiles', 332, 525]], items: C_ITEMS },
  })],
});

// ===== C right =====
const gprViColor = quartC(gprViQ);
new Chart(document.getElementById('chartCR'), {
  type: 'bar',
  data: {
    labels: viNames,
    datasets: [{
      data: gprVi,
      backgroundColor: (c) => gprViColor(c.raw),
      borderColor: '#6a6a6a', borderWidth: 0.5,
      barPercentage: 0.85, categoryPercentage: 1,
    }],
  },
  options: {
    ...baseOptions({ left: 0, top: 10, right: 16, bottom: 0 }),
    scales: { x: viAxis(30, false), y: valueAxis(0, 16, 2, 25) },
  },
  plugins: [decor({
    ox: 390, oy: 500, frame: true, q: gprViQ,
    legend: { kind: 'dash', x: 432, y: 538.5, dy: 11.2, sw: 8, tx: 15, head: [['Quartiles', 432, 528]], items: C_ITEMS },
  })],
});

// ===== D left =====
const plsLines = [pls1, pls2, pls3, pls4, pls5, pls6, pls7];
new Chart(document.getElementById('chartDL'), {
  type: 'line',
  data: {
    datasets: plsLines.map((pts, k) => ({
      label: compNames[k],
      data: pts.map(([w, v]) => ({ x: w, y: v })),
      borderColor: lineColors[k],
      borderWidth: 1.2,
      pointRadius: 0,
      tension: 0.4,
      order: 7 - k,
    })),
  },
  options: {
    ...baseOptions({ left: 0, top: 8, right: 13, bottom: 0 }),
    scales: {
      x: waveAxis(394, 1010, 30),
      y: valueAxis(-2.5, 2.5, 0.5, 52, ['PLSR', 'PLS Weight']),
    },
  },
  plugins: [decor({
    oy: 745, frame: true, q: plsQ, side: [25, 847, 987],
    legend: { kind: 'line', x: 297, y: 772.3, dy: 8, sw: 25, tx: 28, items: compNames.map((n, k) => [n, lineColors[k]]) },
  })],
});

// ===== D right =====
const viComps = [viComp1, viComp2, viComp3, viComp4, viComp5, viComp6, viComp7];
new Chart(document.getElementById('chartDR'), {
  type: 'line',
  data: {
    labels: viNames,
    datasets: viComps.map((vals, k) => ({
      label: compNames[k],
      data: vals,
      showLine: false,
      pointRadius: 1.8,
      pointBorderWidth: 0,
      pointBackgroundColor: dotColors[k],
    })),
  },
  options: {
    ...baseOptions({ left: 0, top: 10, right: 15, bottom: 0 }),
    scales: { x: viAxis(36, true), y: valueAxis(-0.3, 0.3, 0.1, 28) },
  },
  plugins: [decor({
    ox: 390, oy: 745, frame: true, q: plsViQ,
    legend: { kind: 'square', x: 430, y: 771.7, dy: 7.95, tx: 8, items: compNames.map((n, k) => [n, dotColors[k]]) },
  })],
});
</script>
</body>
</html>
